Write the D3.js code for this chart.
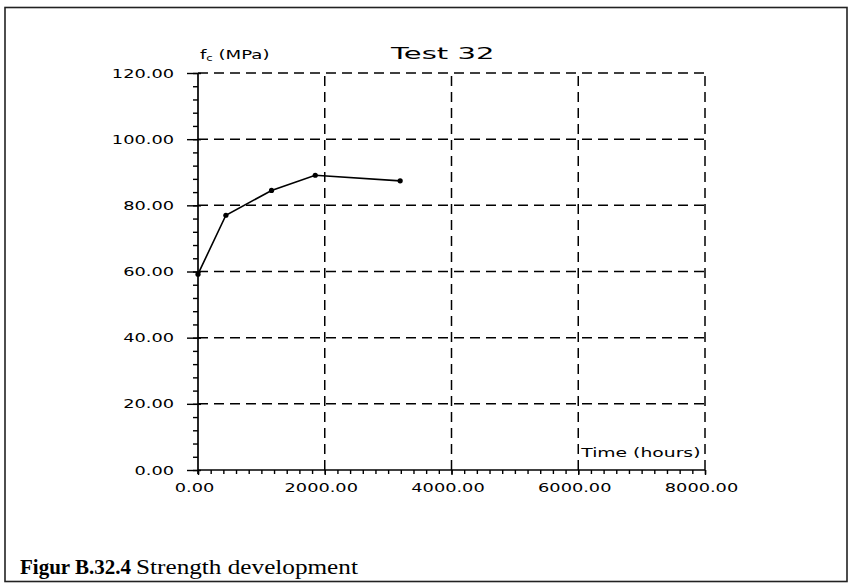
<!DOCTYPE html>
<html>
<head>
<meta charset="utf-8">
<script src="https://cdn.jsdelivr.net/npm/d3@7"></script>
<style>
  html, body { margin: 0; padding: 0; background: #fff; }
  svg { display: block; }
  .plt { font-family: "DejaVu Sans", sans-serif; fill: #000; }
</style>
</head>
<body>
<svg id="chart" width="851" height="585"></svg>
<script>
// ---- data ----
const timeHours = [0, 440, 1160, 1850, 3190];
const strengthMPa = [59.2, 77.0, 84.5, 89.1, 87.4];
const xTicks = [0, 2000, 4000, 6000, 8000];
const yTicks = [0, 20, 40, 60, 80, 100, 120];
const chartTitle = "Test 32";
const xLabel = "Time (hours)";
const captionBold = "Figur B.32.4";
const captionText = "Strength development";

const svg = d3.select("#chart");

// frame
svg.append("rect").attr("x", 5).attr("y", 7.5).attr("width", 842).attr("height", 574)
  .attr("fill", "none").attr("stroke", "#222").attr("stroke-width", 1.6);

const x = d3.scaleLinear().domain([0, 8000]).range([198, 705]);
const y = d3.scaleLinear().domain([0, 120]).range([470, 73]);

const STRETCH = 1.42;
function stretch(sel, k) {
  sel.each(function () {
    const len = this.getComputedTextLength();
    d3.select(this).attr("textLength", len * k).attr("lengthAdjust", "spacingAndGlyphs");
  });
}

// grid
const g = svg.append("g");
g.selectAll("line.hg").data(yTicks.filter(d => d > 0)).join("line")
  .attr("x1", x(0)).attr("x2", x(8000))
  .attr("y1", d => y(d)).attr("y2", d => y(d))
  .attr("stroke", "#000").attr("stroke-width", 1.5).attr("stroke-dasharray", "10,6");
g.selectAll("line.vg").data(xTicks.filter(d => d > 0)).join("line")
  .attr("x1", d => x(d)).attr("x2", d => x(d))
  .attr("y1", y(0)).attr("y2", y(120))
  .attr("stroke", "#000").attr("stroke-width", 1.5).attr("stroke-dasharray", "10,6");

// y axis minor
const yMinor = svg.append("g").attr("transform", `translate(${x(0)},0)`)
  .call(d3.axisLeft(y).tickValues(d3.range(0, 121, 4)).tickSize(5).tickSizeOuter(0).tickFormat(""));
yMinor.select(".domain").remove();
yMinor.selectAll("line").attr("stroke", "#000").attr("stroke-width", 1.4);

// y axis major
const yMajor = svg.append("g").attr("transform", `translate(${x(0)},0)`)
  .call(d3.axisLeft(y).tickValues(yTicks).tickSize(11).tickSizeOuter(0).tickPadding(13).tickFormat(d3.format(".2f")));
yMajor.select(".domain").remove();
yMajor.selectAll("line").attr("stroke", "#000").attr("stroke-width", 1.4);
yMajor.selectAll(".tick line").clone().attr("x1", 0).attr("x2", 3);
yMajor.selectAll("text").attr("class", "plt").attr("font-size", 12.5).attr("font-family", null).attr("fill", "#000");
stretch(yMajor.selectAll("text"), STRETCH);

// x axis minor
const xMinor = svg.append("g").attr("transform", `translate(0,${y(0)})`)
  .call(d3.axisBottom(x).tickValues(d3.range(0, 8001, 200)).tickSize(4).tickSizeOuter(0).tickFormat(""));
xMinor.select(".domain").remove();
xMinor.selectAll("line").attr("stroke", "#000").attr("stroke-width", 1.4);

// x axis major
const xMajor = svg.append("g").attr("transform", `translate(0,${y(0)})`)
  .call(d3.axisBottom(x).tickValues(xTicks).tickSize(5).tickSizeOuter(0).tickPadding(8).tickFormat(d3.format(".2f")));
xMajor.select(".domain").remove();
xMajor.selectAll("line").attr("stroke", "#000").attr("stroke-width", 1.4);
xMajor.selectAll("text").attr("class", "plt").attr("font-size", 12.5).attr("font-family", null)
  .attr("fill", "#000").attr("x", -4);
stretch(xMajor.selectAll("text"), STRETCH);

// axis lines
svg.append("line").attr("x1", x(0)).attr("x2", x(0)).attr("y1", y(0) + 4).attr("y2", y(120))
  .attr("stroke", "#000").attr("stroke-width", 1.7);
svg.append("line").attr("x1", x(0)).attr("x2", x(8000)).attr("y1", y(0)).attr("y2", y(0))
  .attr("stroke", "#000").attr("stroke-width", 1.7);

// data line
const pts = timeHours.map((t, i) => [t, strengthMPa[i]]);
svg.append("path").datum(pts)
  .attr("d", d3.line().x(d => x(d[0])).y(d => y(d[1])))
  .attr("fill", "none").attr("stroke", "#000").attr("stroke-width", 1.6);
svg.selectAll("circle.pt").data(pts).join("circle")
  .attr("cx", d => x(d[0])).attr("cy", d => y(d[1])).attr("r", 2.6).attr("fill", "#000");

// y label f_c (MPa)
const yl = svg.append("text").attr("class", "plt").attr("x", x(0) + 2).attr("y", y(120) - 14)
  .attr("font-size", 12.5);
yl.append("tspan").text("f");
yl.append("tspan").attr("font-size", 8).attr("dy", 2).text("c");
yl.append("tspan").attr("dy", -2).text(" (MPa)");
stretch(yl, 1.45);

// title
const tt = svg.append("text").attr("class", "plt").attr("x", 391).attr("y", y(120) - 14)
  .attr("font-size", 16.5).text(chartTitle);
stretch(tt, 1.76);

// x label
const xl = svg.append("text").attr("class", "plt").attr("x", x(6000) + 3).attr("y", y(0) - 13)
  .attr("font-size", 12.5).text(xLabel);
stretch(xl, 1.5);

// caption
const capFont = "'Liberation Serif', 'Times New Roman', serif";
const capB = svg.append("text").attr("x", 20).attr("y", 574)
  .attr("font-family", capFont).attr("font-size", 21).attr("font-weight", "bold")
  .attr("fill", "#000").text(captionBold);
const bLen = capB.node().getComputedTextLength();
const capR = svg.append("text").attr("x", 20 + bLen + 5).attr("y", 574)
  .attr("font-family", capFont).attr("font-size", 21)
  .attr("fill", "#000").text(captionText);
stretch(capR, 1.2);
</script>
</body>
</html>
